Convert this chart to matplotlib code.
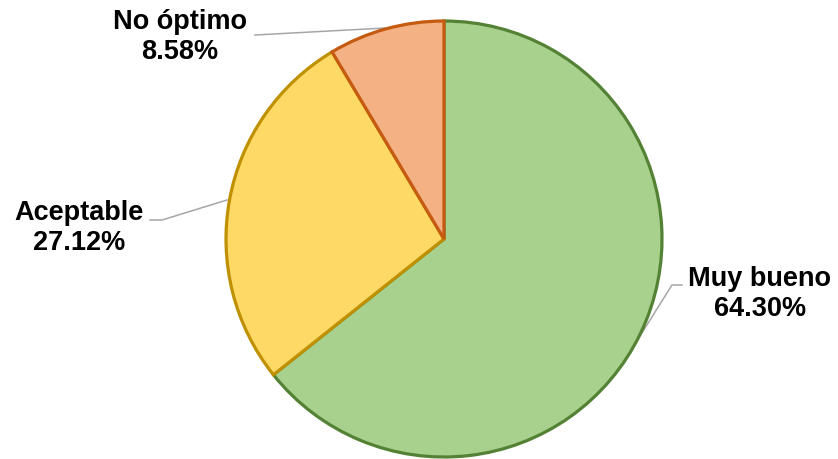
import matplotlib
matplotlib.use("Agg")
import matplotlib.pyplot as plt

categories = ["Muy bueno", "Aceptable", "No óptimo"]
values = [64.30, 27.12, 8.58]
fill_colors = ["#A9D18E", "#FFD966", "#F4B183"]
edge_colors = ["#548235", "#BF9000", "#C55A11"]

W, H = 838, 460
fig = plt.figure(figsize=(W / 100, H / 100), dpi=100)
ax = fig.add_axes([0, 0, 1, 1])

def py(y):
    return H - y

cx, cy, r = 444, 240, 218
wedges, _ = ax.pie(values, startangle=90, counterclock=False,
                   colors=fill_colors, center=(cx, py(cy)), radius=r,
                   frame=True)
for w, ec in zip(wedges, edge_colors):
    w.set_edgecolor(ec)
    w.set_linewidth(2.3)
ax.set_xlim(0, W)
ax.set_ylim(0, H)
ax.set_aspect("equal")
ax.axis("off")

label_pos = [(760, 294), (79, 228), (180, 37)]
leaders = [
    [(682, 286), (672, 286), (640, 337)],
    [(150, 221), (162, 221), (227, 201)],
    [(255, 36), (385, 29)],
]
for cat, val, (lx, ly), pts in zip(categories, values, label_pos, leaders):
    ax.text(lx, py(ly), f"{cat}\n{val:.2f}%", ha="center", va="center",
            multialignment="center", fontsize=19.5, fontweight="bold",
            family="Liberation Sans", linespacing=1.22, color="black")
    xs = [p[0] for p in pts]
    ys = [py(p[1]) for p in pts]
    ax.plot(xs, ys, color="#A6A6A6", linewidth=1.1, zorder=0.5)

fig.savefig("out.png", dpi=100)
